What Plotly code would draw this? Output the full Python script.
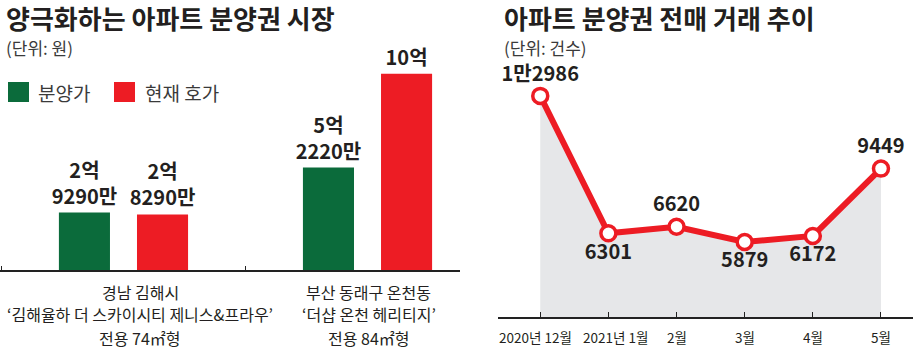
import plotly.graph_objects as go

# ---------------- data ----------------
# left chart: prices in 만원
bar_categories = [
    "경남 김해시<br>‘김해율하 더 스카이시티 제니스&프라우’<br>전용 74㎡형",
    "부산 동래구 온천동<br>‘더샵 온천 헤리티지’<br>전용 84㎡형",
]
presale_price = [29290, 52220]
current_price = [28290, 100000]
presale_labels = ["2억<br>9290만", "5억<br>2220만"]
current_labels = ["2억<br>8290만", "10억"]
series_names = ["분양가", "현재 호가"]

# right chart: resale transactions (건)
months = ["2020년 12월", "2021년 1월", "2월", "3월", "4월", "5월"]
deals = [12986, 6301, 6620, 5879, 6172, 9449]
deal_labels = ["1만2986", "6301", "6620", "5879", "6172", "9449"]

# ---------------- style ----------------
GREEN = "#0b6b3b"
RED = "#ed1c24"
FILL = "#e6e7e9"
TXT = "#231f20"
KR = "Noto Sans CJK KR"
W, H = 913, 354

def px(x):
    return x / W

def py(y):
    return 1 - y / H

fig = go.Figure()

fig.add_trace(go.Bar(
    x=bar_categories, y=presale_price, name=series_names[0],
    marker=dict(color=GREEN, line=dict(width=0)),
    text=presale_labels, textposition="outside", constraintext="none",
    textfont=dict(family=KR, size=20, color=TXT, weight="bold"),
    cliponaxis=False, xaxis="x", yaxis="y", showlegend=False,
))
fig.add_trace(go.Bar(
    x=bar_categories, y=current_price, name=series_names[1],
    marker=dict(color=RED, line=dict(width=0)),
    text=current_labels, textposition="outside", constraintext="none",
    textfont=dict(family=KR, size=20, color=TXT, weight="bold"),
    cliponaxis=False, xaxis="x", yaxis="y", showlegend=False,
))

fig.add_trace(go.Scatter(
    x=months, y=deals, mode="lines+markers+text",
    fill="tozeroy", fillcolor=FILL,
    line=dict(color=RED, width=6),
    marker=dict(size=15, color="white", line=dict(color=RED, width=3.5)),
    text=deal_labels,
    textposition=["top center", "bottom center", "top center",
                  "bottom center", "bottom center", "top center"],
    textfont=dict(family=KR, size=20, color=TXT, weight="bold"),
    cliponaxis=False, xaxis="x2", yaxis="y2", showlegend=False,
))

annotations = [
    dict(text="<b>양극화하는 아파트 분양권 시장</b>", x=px(4), y=py(18), xref="paper", yref="paper",
         xanchor="left", yanchor="middle", showarrow=False, font=dict(family=KR, size=26, color=TXT)),
    dict(text="(단위: 원)", x=px(4), y=py(48), xref="paper", yref="paper",
         xanchor="left", yanchor="middle", showarrow=False, font=dict(family=KR, size=17, color="#3a3a3a")),
    dict(text="<b>아파트 분양권 전매 거래 추이</b>", x=px(502), y=py(18), xref="paper", yref="paper",
         xanchor="left", yanchor="middle", showarrow=False, font=dict(family=KR, size=26, color=TXT)),
    dict(text="(단위: 건수)", x=px(502), y=py(48), xref="paper", yref="paper",
         xanchor="left", yanchor="middle", showarrow=False, font=dict(family=KR, size=17, color="#3a3a3a")),
    dict(text=series_names[0], x=px(36), y=py(92), xref="paper", yref="paper",
         xanchor="left", yanchor="middle", showarrow=False, font=dict(family=KR, size=19, color="#3a3a3a")),
    dict(text=series_names[1], x=px(143), y=py(92), xref="paper", yref="paper",
         xanchor="left", yanchor="middle", showarrow=False, font=dict(family=KR, size=19, color="#3a3a3a")),
]

# category captions under the bar groups, one annotation per line
label_shift = [17, 1]
line_y = [292, 314, 338]
for cat, sh in zip(bar_categories, label_shift):
    for line, ly in zip(cat.split("<br>"), line_y):
        annotations.append(dict(
            text=line, x=cat, xref="x", y=py(ly), yref="paper", xanchor="center", yanchor="middle",
            xshift=sh, showarrow=False, font=dict(family=KR, size=16, color=TXT),
        ))

# month labels under the right axis (first two nudged apart so they don't touch)
month_shift = [-5, 7, 0, 0, 0, 0]
for m, sh in zip(months, month_shift):
    annotations.append(dict(
        text=m, x=m, xref="x2", y=py(337), yref="paper", xanchor="center", yanchor="middle",
        xshift=sh, showarrow=False, font=dict(family=KR, size=13.5, color=TXT),
    ))

shapes = [
    dict(type="rect", xref="paper", yref="paper", x0=px(8), x1=px(29), y0=py(102), y1=py(82),
         fillcolor=GREEN, line=dict(width=0)),
    dict(type="rect", xref="paper", yref="paper", x0=px(114), x1=px(135), y0=py(102), y1=py(82),
         fillcolor=RED, line=dict(width=0)),
]

fig.update_layout(
    width=W, height=H, margin=dict(l=0, r=0, t=0, b=0, autoexpand=False),
    paper_bgcolor="white", plot_bgcolor="white",
    barmode="group", bargap=0.36, bargroupgap=0.346,
    font=dict(family=KR, color=TXT),
    xaxis=dict(domain=[0, px(460)], type="category", range=[-0.506, 1.379],
               showline=True, linecolor="#222", linewidth=1.5, showgrid=False, zeroline=False,
               showticklabels=False, ticks="inside", ticklen=4, tickcolor="#222", tickwidth=1,
               tickson="boundaries", fixedrange=True, automargin=False),
    yaxis=dict(domain=[1 - 270 / H, 1 - 60 / H], range=[0, 107000], visible=False,
               fixedrange=True, automargin=False),
    xaxis2=dict(domain=[px(498), 1], type="category", range=[-0.62, 5.47], anchor="y2",
                showline=True, linecolor="#222", linewidth=1.5, showgrid=False, zeroline=False,
                ticks="inside", ticklen=5, tickcolor="#222", tickwidth=1,
                showticklabels=False, fixedrange=True, automargin=False),
    yaxis2=dict(domain=[1 - 317 / H, 1 - 95 / H], range=[2230, 13030], visible=False,
                anchor="x2", fixedrange=True, automargin=False),
    annotations=annotations, shapes=shapes,
)

fig.write_html("out.html")
